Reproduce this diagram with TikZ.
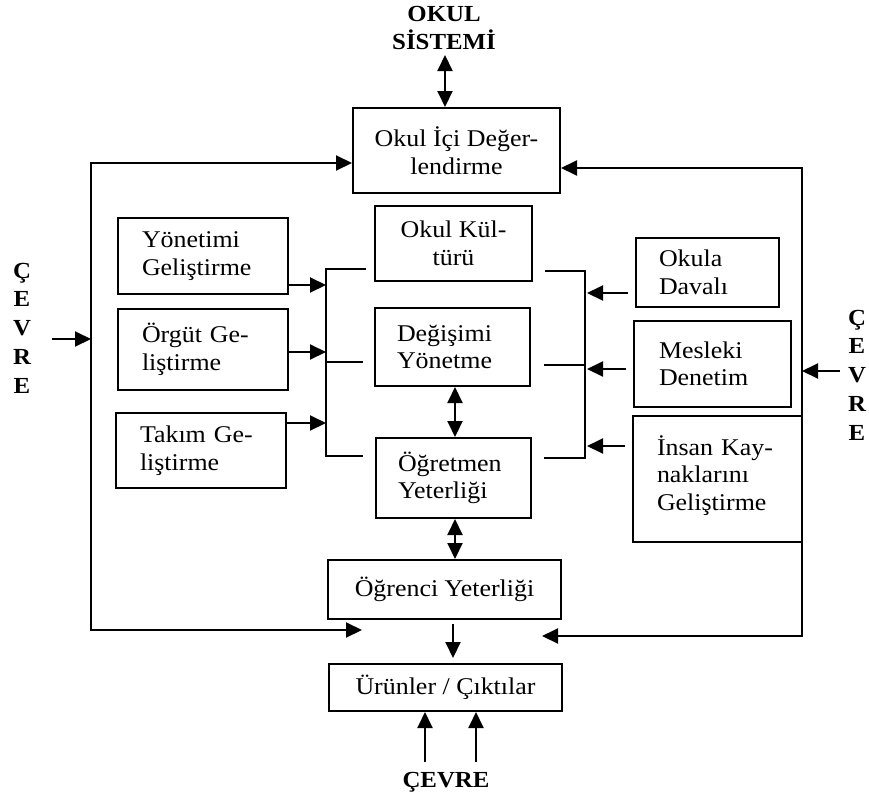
\documentclass[tikz,border=0pt]{standalone}
\usepackage{fontspec}
\setmainfont{Liberation Serif}[FakeStretch=1.08]
\usetikzlibrary{arrows.meta}
\newcommand\txtfnt{\fontsize{24}{27.5}\selectfont}
\newcommand\hdfnt{\fontsize{23}{28}\selectfont\bfseries}
\newcommand\stackfnt{\fontsize{23}{28.7}\selectfont\bfseries}
\begin{document}
\begin{tikzpicture}[x=1pt,y=-1pt,
  box/.style={draw, line width=2pt, inner sep=0pt, font=\txtfnt},
  lbox/.style={box, align=left},
  lbl/.style={align=center, inner sep=0pt, font=\hdfnt},
  ln/.style={line width=2pt},
  arr/.style={ln, -{Triangle[length=16pt,width=15pt]}},
  dbl/.style={ln, {Triangle[length=16pt,width=15pt]}-{Triangle[length=16pt,width=15pt]}}]
\useasboundingbox (0,0) rectangle (869,800);

% labels
\node[lbl] (okul) at (444,28) {OKUL\\SİSTEMİ};
\node[lbl, font=\stackfnt] (cevL) at (22,328) {Ç\\E\\V\\R\\E};
\node[lbl, font=\stackfnt] (cevR) at (857,375) {Ç\\E\\V\\R\\E};
\node[lbl] (cevB) at (446,782) {ÇEVRE};

% central boxes
\node[box, align=center, minimum width=207pt, minimum height=85pt] (ic) at (456.5,150.5) {Okul İçi Değer-\\lendirme};
\node[box, align=center, minimum width=157pt, minimum height=75pt] (kultur) at (453.5,243.5) {Okul Kül-\\türü};
\node[lbox, minimum width=155pt, minimum height=78pt, text width=111pt, inner xsep=22pt] (degisim) at (452.5,347) {Değişimi\\Yönetme};
\node[lbox, minimum width=155pt, minimum height=80pt, text width=111pt, inner xsep=22pt] (ogretmen) at (453.5,478) {Öğretmen\\Yeterliği};
\node[box, minimum width=233pt, minimum height=59pt] (ogrenci) at (444.5,589.5) {Öğrenci Yeterliği};
\node[box, minimum width=233pt, minimum height=47pt] (urun) at (445.5,687.5) {Ürünler / Çıktılar};

% left boxes
\node[lbox, minimum width=170pt, minimum height=76pt, text width=122pt, inner xsep=24pt] (yon) at (203,256) {Yönetimi\\Geliştirme};
\node[lbox, minimum width=170pt, minimum height=81pt, text width=122pt, inner xsep=24pt] (orgut) at (203,349.5) {Örgüt Ge-\\liştirme};
\node[lbox, minimum width=170pt, minimum height=75pt, text width=122pt, inner xsep=24pt] (takim) at (201,450.5) {Takım Ge-\\liştirme};

% right boxes
\node[lbox, minimum width=143pt, minimum height=69pt, text width=97pt, inner xsep=23pt] (okula) at (707.5,272.5) {Okula\\Davalı};
\node[lbox, minimum width=157pt, minimum height=86pt, text width=107pt, inner xsep=25pt] (mesleki) at (712.5,364) {Mesleki\\Denetim};
\node[lbox, minimum width=169pt, minimum height=126pt, text width=121pt, inner xsep=24pt] (insan) at (717.5,479) {İnsan Kay-\\naklarını\\Geliştirme\\[-15pt]\mbox{}};

% coordinates
\coordinate (okt) at (445,55);
\coordinate (lt) at (91,163);
\coordinate (lb) at (91,630);
\coordinate (lbe) at (362,630);
\coordinate (rt) at (802,168);
\coordinate (rb) at (802,636);
\coordinate (rbe) at (542,636);
\coordinate (clA) at (52,339);
\coordinate (crA) at (840,371);
\coordinate (bl1) at (326,269);
\coordinate (bl1e) at (366,269);
\coordinate (bl2) at (326,456);
\coordinate (bl3e) at (363,456);
\coordinate (bl2s) at (326,362);
\coordinate (bl2e) at (363,362);
\coordinate (ya) at (326,285);
\coordinate (oa) at (326,352);
\coordinate (ta) at (326,423);
\coordinate (br1) at (585,271);
\coordinate (br1e) at (545,271);
\coordinate (br2) at (585,458);
\coordinate (br3e) at (544,458);
\coordinate (br2s) at (585,365);
\coordinate (br2e) at (544,365);
\coordinate (ra1) at (587,293);
\coordinate (ra2) at (587,369);
\coordinate (ra3) at (587,446);
\coordinate (cx) at (455,0);
\coordinate (cx2) at (453,0);
\coordinate (b1) at (425,762);
\coordinate (b2) at (476,762);

% connectors
\draw[dbl] (okt) -- (okt |- ic.north);
\draw[dbl] (lbe) -- (lb) -- (lt) -- (lt -| ic.west);
\draw[dbl] (rbe) -- (rb) -- (rt) -- (rt -| ic.east);
\draw[arr] (clA) -- (clA -| lt);
\draw[arr] (crA) -- (crA -| rt);

\draw[ln] (bl1e) -- (bl1) -- (bl2) -- (bl3e);
\draw[ln] (bl2s) -- (bl2e);
\draw[arr] (yon.east |- ya) -- (ya);
\draw[arr] (orgut.east |- oa) -- (oa);
\draw[arr] (takim.east |- ta) -- (ta);

\draw[ln] (br1e) -- (br1) -- (br2) -- (br3e);
\draw[ln] (br2s) -- (br2e);
\draw[arr, shorten <=7pt] (okula.west |- ra1) -- (ra1);
\draw[arr, shorten <=7pt] (mesleki.west |- ra2) -- (ra2);
\draw[arr, shorten <=7pt] (insan.west |- ra3) -- (ra3);

\draw[dbl] (degisim.south -| cx) -- (ogretmen.north -| cx);
\draw[dbl] (ogretmen.south -| cx) -- (ogrenci.north -| cx);
\draw[arr, shorten <=4pt, shorten >=5pt] (ogrenci.south -| cx2) -- (urun.north -| cx2);
\draw[arr] (b1) -- (b1 |- urun.south);
\draw[arr] (b2) -- (b2 |- urun.south);
\end{tikzpicture}
\end{document}
